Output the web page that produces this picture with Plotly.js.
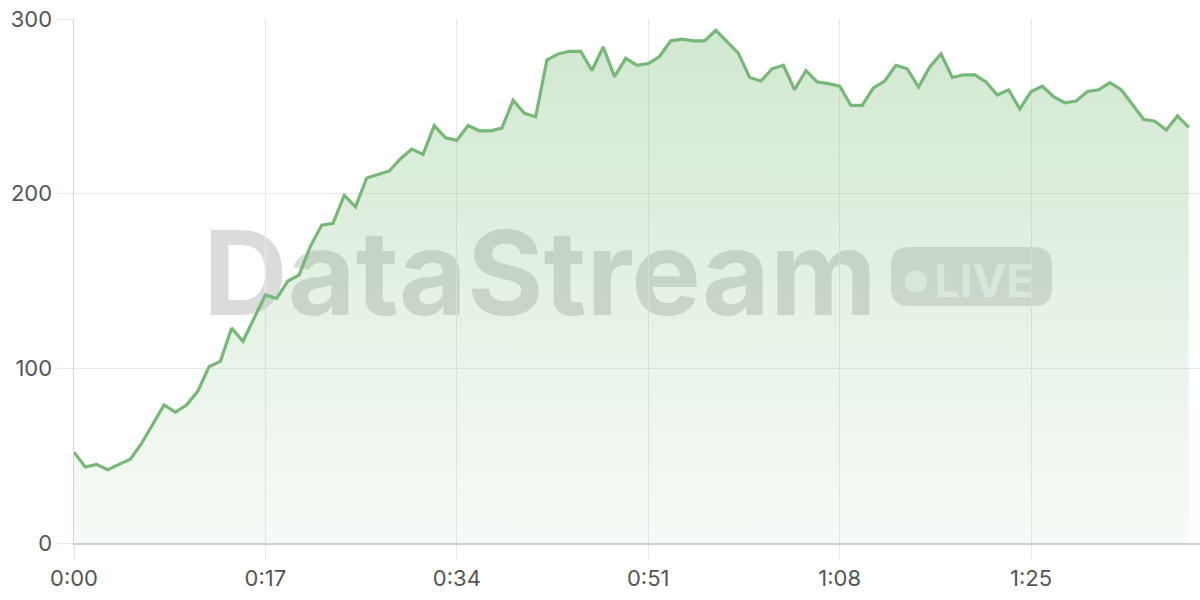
<!DOCTYPE html>
<html>
<head>
<meta charset="utf-8">
<script src="https://cdn.plot.ly/plotly-3.0.1.min.js"></script>
<style>
  html, body { margin: 0; padding: 0; background: #ffffff; }
  #chart { width: 1200px; height: 600px; }
</style>
</head>
<body>
<div id="chart"></div>
<script>
// ---- Data ----
const seconds = [0,1,2,3,4,5,6,7,8,9,10,11,12,13,14,15,16,17,18,19,20,21,22,23,24,25,26,27,28,29,30,31,32,33,34,35,36,37,38,39,40,41,42,43,44,45,46,47,48,49,50,51,52,53,54,55,56,57,58,59,60,61,62,63,64,65,66,67,68,69,70,71,72,73,74,75,76,77,78,79,80,81,82,83,84,85,86,87,88,89,90,91,92,93,94,95,96,97,98,99];
const values = [52,43.5,45,42,45,48,57,68,79,75,79,87,101,104,123,115.5,129,142,140,150,153.5,170,182,183,199,192.5,209,211,213,220,225.5,222.5,239,232,230.5,239,236,236,237.5,253.5,246,244,276.5,280,281.5,281.5,270.5,284,267,277.5,273.5,274.5,278.5,287.5,288.5,287.5,287.5,293.5,287,280.5,266.5,264.5,271.5,273.5,259.5,270.5,264,263,261.5,250.5,250.5,260.5,264.5,273.5,271.5,261,272.5,280,266.5,268,268,264,256.5,259.5,248.5,258.5,261.5,255.5,252,253,258.5,259.5,263.5,259.5,251,242.5,241.5,236.5,244.5,238];
const xTickVals = [0,17,34,51,68,85];
const xTickText = ["0:00","0:17","0:34","0:51","1:08","1:25"];
const yTickVals = [0,100,200,300];
const watermarkText = "DataStream";
const badgeText = "LIVE";

// ---- Layout helpers (pixel -> paper) ----
const M = {l: 74, r: 0, t: 19, b: 57};
const W = 1200, H = 600;
const pw = W - M.l - M.r, ph = H - M.t - M.b;
const px = v => (v - M.l) / pw;
const py = v => (H - M.b - v) / ph;

function roundRect(x0p, y0p, x1p, y1p, r) {
  const x0 = px(x0p), x1 = px(x1p), yt = py(y0p), yb = py(y1p);
  const rx = r / pw, ry = r / ph;
  return `M${x0+rx},${yb} L${x1-rx},${yb} Q${x1},${yb} ${x1},${yb+ry} L${x1},${yt-ry} Q${x1},${yt} ${x1-rx},${yt} L${x0+rx},${yt} Q${x0},${yt} ${x0},${yt-ry} L${x0},${yb+ry} Q${x0},${yb} ${x0+rx},${yb} Z`;
}

const green = 'rgb(118,185,118)';
const fontFam = 'Inter, "Open Sans", "DejaVu Sans", sans-serif';

const trace = {
  x: seconds,
  y: values,
  type: 'scatter',
  mode: 'lines',
  line: {color: green, width: 3.2},
  fill: 'tozeroy',
  fillgradient: {
    type: 'vertical',
    start: 0,
    stop: 300,
    colorscale: [[0, 'rgba(118,185,118,0.06)'], [1, 'rgba(118,185,118,0.34)']]
  },
  hoverinfo: 'skip'
};

const shapes = [
  // DataStream watermark text
  {type: 'rect', xref: 'paper', yref: 'paper', layer: 'below',
   x0: px(205), x1: px(875), y0: py(327), y1: py(209),
   line: {width: 0}, fillcolor: 'rgba(0,0,0,0)',
   label: {text: watermarkText, textposition: 'middle center',
           font: {family: fontFam, size: 117, weight: 'bold', color: 'rgba(0,0,0,0.14)'}}},
  // LIVE badge
  {type: 'path', xref: 'paper', yref: 'paper', layer: 'below',
   path: roundRect(891, 247, 1052, 306, 18),
   line: {width: 0}, fillcolor: 'rgba(0,0,0,0.13)'},
  {type: 'circle', xref: 'paper', yref: 'paper', layer: 'below',
   x0: px(905), x1: px(927), y0: py(292.5), y1: py(270.5),
   line: {width: 0}, fillcolor: 'rgba(255,255,255,0.6)'},
  {type: 'rect', xref: 'paper', yref: 'paper', layer: 'below',
   x0: px(930), x1: px(1038), y0: py(300), y1: py(258),
   line: {width: 0}, fillcolor: 'rgba(0,0,0,0)',
   label: {text: badgeText, textposition: 'middle center',
           font: {family: fontFam, size: 45, weight: 'bold', color: 'rgba(255,255,255,0.6)'}}}
];

const layout = {
  width: W, height: H,
  margin: M,
  paper_bgcolor: '#ffffff',
  plot_bgcolor: 'rgba(0,0,0,0)',
  showlegend: false,
  font: {family: fontFam, color: '#555555'},
  xaxis: {
    range: [0, 100],
    tickvals: xTickVals, ticktext: xTickText,
    showgrid: true, gridcolor: '#e8e8e8', gridwidth: 1,
    ticks: 'outside', ticklen: 15, tickcolor: '#e8e8e8', tickwidth: 1,
    showline: true, linecolor: '#cfcfcf', linewidth: 1.5,
    zeroline: false,
    tickfont: {size: 22, color: '#555555', family: fontFam},
    fixedrange: true
  },
  yaxis: {
    range: [0, 300],
    tickvals: yTickVals,
    showgrid: true, gridcolor: '#e8e8e8', gridwidth: 1,
    ticks: 'outside', ticklen: 16, tickcolor: '#e8e8e8', tickwidth: 1,
    showline: true, linecolor: '#d4d4d4', linewidth: 1.5,
    zeroline: false,
    tickfont: {size: 22, color: '#555555', family: fontFam},
    fixedrange: true
  },
  shapes: shapes
};

Plotly.newPlot('chart', [trace], layout, {displayModeBar: false, staticPlot: true});
</script>
</body>
</html>
